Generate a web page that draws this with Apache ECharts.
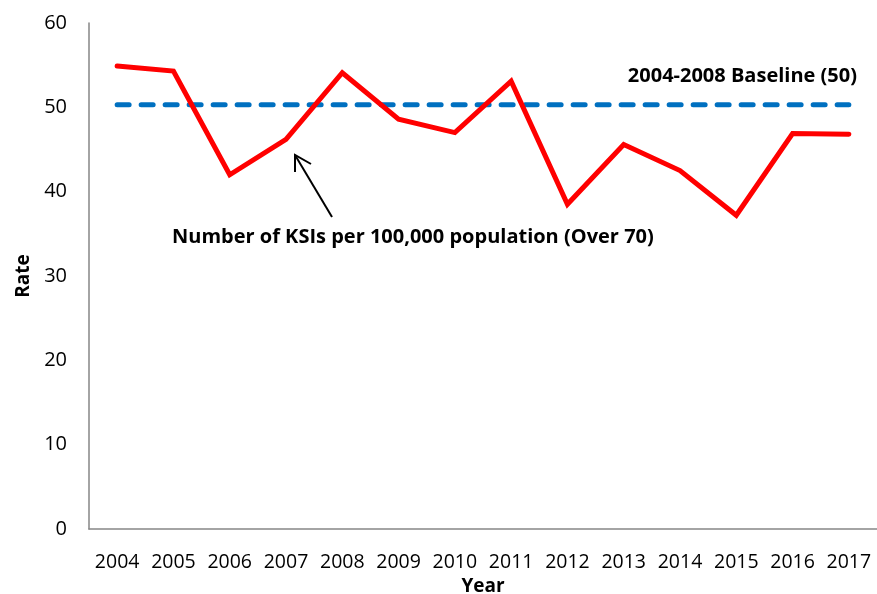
<!DOCTYPE html>
<html><head><meta charset="utf-8">
<script src="https://cdn.jsdelivr.net/npm/echarts@6/dist/echarts.min.js"></script>
<style>html,body{margin:0;padding:0;background:#fff;overflow:hidden}#c{width:877px;height:594px}</style>
</head><body><div id="c"></div>
<script>
const years = ['2004','2005','2006','2007','2008','2009','2010','2011','2012','2013','2014','2015','2016','2017'];
const ksiRate = [54.9, 54.3, 42.0, 46.2, 54.1, 48.6, 47.0, 53.1, 38.5, 45.6, 42.5, 37.2, 46.9, 46.8];
const baseline = [50.3, 50.3, 50.3, 50.3, 50.3, 50.3, 50.3, 50.3, 50.3, 50.3, 50.3, 50.3, 50.3, 50.3];
const yTicks = [0, 10, 20, 30, 40, 50, 60];

const FONT = '"Open Sans", "Liberation Sans", sans-serif';
const chart = echarts.init(document.getElementById('c'));
chart.setOption({
  animation: false,
  backgroundColor: '#fff',
  grid: { left: 89, right: 0, top: 23, bottom: 65, containLabel: false, outerBoundsMode: 'none' },
  xAxis: {
    type: 'category', data: years, boundaryGap: true,
    axisLine: { lineStyle: { color: '#868686', width: 1.5 } },
    axisTick: { show: false },
    axisLabel: { color: '#000', fontFamily: FONT, fontSize: 19.5, margin: 23, interval: 0 },
    name: 'Year', nameLocation: 'middle', nameGap: 47,
    nameTextStyle: { color: '#000', fontFamily: FONT, fontSize: 19, fontWeight: 'bold' }
  },
  yAxis: {
    type: 'value', min: yTicks[0], max: yTicks[yTicks.length - 1], interval: 10,
    axisLine: { show: true, lineStyle: { color: '#868686', width: 1.5 } },
    axisTick: { show: false },
    splitLine: { show: false },
    axisLabel: { color: '#000', fontFamily: FONT, fontSize: 20, margin: 22 },
    name: 'Rate', nameLocation: 'middle', nameGap: 56, nameRotate: 90,
    nameTextStyle: { color: '#000', fontFamily: FONT, fontSize: 19, fontWeight: 'bold' }
  },
  series: [
    { type: 'line', data: baseline, symbol: 'none', z: 2,
      lineStyle: { color: '#0070C0', width: 5, type: [12, 12], cap: 'round' } },
    { type: 'line', data: ksiRate, symbol: 'none', z: 3,
      lineStyle: { color: '#FF0000', width: 5, cap: 'round', join: 'miter' } }
  ],
  graphic: [
    { type: 'text', right: 20, top: 66,
      style: { text: '2004-2008 Baseline (50)', fill: '#000', font: 'bold 20px ' + FONT } },
    { type: 'text', left: 172, top: 227,
      style: { text: 'Number of KSIs per 100,000 population (Over 70)', fill: '#000', font: 'bold 20px ' + FONT } },
    { type: 'line', shape: { x1: 332, y1: 217, x2: 295, y2: 155 }, style: { stroke: '#000', lineWidth: 2 } },
    { type: 'polyline', shape: { points: [[295, 172], [295, 155], [311, 164]] }, style: { stroke: '#000', lineWidth: 2, fill: null } }
  ]
});
</script></body></html>
